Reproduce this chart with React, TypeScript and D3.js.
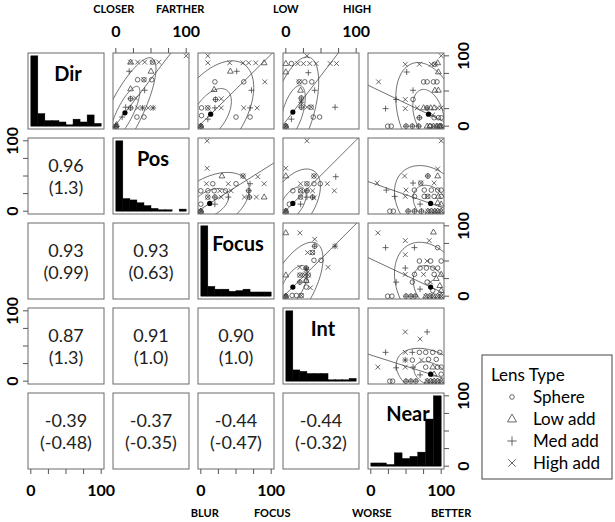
import React from 'react';
import * as d3 from 'd3';

// ---------- data ----------
const VARIABLES = ['Dir', 'Pos', 'Focus', 'Int', 'Near'];
const LENS_TYPES = ['Sphere', 'Low add', 'Med add', 'High add'];
const LENS_CODES = ['S', 'L', 'M', 'H'];

// histogram bar heights (equal bins over 0..100)
const HIST_DIR = [50, 9, 4, 4, 3, 1, 5, 3, 8, 2];
const HIST_POS = [50, 9, 8, 6, 4, 2, 1, 1, 0, 1.5];
const HIST_FOCUS = [50, 7, 5, 5, 3.5, 4, 5, 3, 3, 3];
const HIST_INT = [50, 8, 7, 5.5, 5.5, 5.5, 1, 1, 1, 2];
const HIST_NEAR = [2.3, 2.3, 1.2, 9.5, 5.5, 7, 10, 33.5, 50];
const HISTS = [HIST_DIR, HIST_POS, HIST_FOCUS, HIST_INT, HIST_NEAR];

// lower panels: [row, col, r, slope]
const CORR_ROWS = [1, 2, 2, 3, 3, 3, 4, 4, 4, 4];
const CORR_COLS = [0, 0, 1, 0, 1, 2, 0, 1, 2, 3];
const CORR_R = [0.96, 0.93, 0.93, 0.87, 0.91, 0.9, -0.39, -0.37, -0.44, -0.44];
const CORR_SLOPE = [1.3, 0.99, 0.63, 1.3, 1.0, 1.0, -0.48, -0.35, -0.47, -0.32];

type Pt = [number, number, string];

// upper panels: x = column variable, y = row variable
const PTS_DIR_POS: Pt[] = [
  [21, 91, 'L'], [21, 91, 'H'], [31, 91, 'H'], [41, 91, 'H'], [52, 91, 'S'], [52, 91, 'H'], [61, 91, 'H'],
  [50, 78, 'L'], [19, 78, 'M'],
  [31, 66, 'S'], [40, 66, 'S'], [40, 66, 'H'], [51, 66, 'S'],
  [41, 51, 'M'], [21, 53, 'L'],
  [21, 39, 'S'], [21, 39, 'M'], [28, 40, 'H'],
  [14, 27, 'M'], [21, 26, 'S'], [21, 26, 'M'], [31, 26, 'H'], [38, 26, 'M'], [38, 26, 'H'], [46, 26, 'H'], [53, 26, 'M'], [53, 26, 'H'],
  [30, 13, 'S'], [40, 13, 'S'], [9, 13, 'M'],
  [0, 0, 'L'], [0, 0, 'S'], [0, 0, 'M'], [0, 0, 'H'], [1, 2, 'L'],
  [100, 100, 'H'],
];
const PTS_DIR_FOCUS: Pt[] = [
  [10, 100, 'H'], [10, 90, 'H'], [41, 90, 'H'], [60, 90, 'H'], [68, 90, 'H'], [78, 90, 'H'], [90, 90, 'L'],
  [42, 78, 'L'], [51, 78, 'M'],
  [20, 63, 'S'], [61, 63, 'S'], [91, 63, 'H'],
  [72, 51, 'M'], [19, 52, 'L'],
  [21, 38, 'S'], [21, 38, 'M'], [29, 39, 'H'],
  [1, 26, 'S'], [10, 26, 'S'], [10, 26, 'H'], [20, 26, 'M'], [29, 26, 'H'],
  [61, 26, 'H'], [70, 26, 'M'], [80, 26, 'H'],
  [1, 15, 'S'], [10, 10, 'M'], [50, 13, 'S'], [70, 13, 'S'],
  [0, 0, 'L'], [0, 0, 'S'], [0, 0, 'M'], [0, 0, 'H'],
];
const PTS_DIR_INT: Pt[] = [
  [30, 100, 'H'],
  [0, 89, 'L'], [8, 89, 'S'], [17, 89, 'H'], [25, 89, 'H'], [34, 89, 'H'], [43, 89, 'H'], [63, 89, 'H'], [72, 89, 'H'],
  [0, 77, 'L'], [32, 76, 'M'],
  [19, 63, 'S'], [19, 63, 'H'], [27, 63, 'S'], [37, 63, 'S'],
  [21, 51, 'L'], [41, 51, 'M'],
  [22, 40, 'S'], [22, 40, 'M'], [22, 34, 'M'], [22, 34, 'H'],
  [22, 27, 'S'], [22, 27, 'M'], [30, 27, 'H'], [36, 27, 'S'], [36, 27, 'H'], [70, 27, 'M'],
  [39, 13, 'S'], [48, 13, 'S'], [8, 10, 'M'],
  [0, 0, 'L'], [0, 0, 'S'], [0, 0, 'M'], [0, 0, 'H'],
];
const PTS_DIR_NEAR: Pt[] = [
  [100, 100, 'H'],
  [49, 88, 'H'], [69, 88, 'H'], [86, 88, 'H'], [91, 88, 'S'], [91, 88, 'H'], [95, 90, 'L'],
  [96, 77, 'L'], [51, 77, 'M'],
  [11, 63, 'H'], [75, 63, 'S'], [80, 63, 'S'], [89, 63, 'S'], [94, 63, 'S'],
  [60, 51, 'M'], [91, 51, 'L'], [96, 51, 'L'],
  [36, 38, 'M'], [49, 38, 'H'], [60, 38, 'S'],
  [21, 25, 'M'], [49, 25, 'H'],
  [66, 26, 'H'], [75, 26, 'L'], [80, 26, 'S'], [80, 26, 'M'], [85, 26, 'L'], [90, 26, 'L'], [95, 26, 'H'], [100, 26, 'H'],
  [69, 12, 'S'], [69, 12, 'M'], [90, 12, 'S'], [96, 12, 'S'], [100, 12, 'S'], [88, 16, 'H'],
  [24, 0, 'S'], [29, 0, 'S'], [50, 0, 'S'], [50, 0, 'M'], [59, 0, 'S'], [59, 0, 'M'], [68, 0, 'S'], [68, 0, 'M'],
  [80, 0, 'L'], [84, 0, 'L'], [84, 0, 'S'], [89, 0, 'L'], [89, 0, 'H'], [94, 0, 'L'], [94, 0, 'M'], [98, 0, 'L'], [98, 0, 'S'], [100, 0, 'L'], [100, 0, 'H'],
];
const PTS_POS_FOCUS: Pt[] = [
  [9, 100, 'H'], [9, 61, 'H'],
  [30, 50, 'L'], [60, 50, 'S'], [60, 50, 'H'], [81, 49, 'H'],
  [8, 39, 'H'], [17, 39, 'S'], [39, 39, 'H'], [50, 39, 'S'], [70, 39, 'M'], [90, 39, 'H'],
  [0, 29, 'S'], [10, 29, 'S'], [19, 29, 'S'], [27, 29, 'H'], [35, 29, 'S'], [43, 29, 'H'], [68, 29, 'S'], [68, 29, 'M'],
  [10, 20, 'S'], [10, 20, 'H'], [20, 20, 'S'], [20, 20, 'M'], [29, 20, 'H'], [39, 20, 'M'], [62, 20, 'H'], [69, 20, 'S'], [69, 20, 'M'], [79, 20, 'H'], [90, 20, 'L'],
  [20, 10, 'M'], [0, 10, 'S'],
  [0, 0, 'L'], [0, 0, 'S'], [0, 0, 'M'], [0, 0, 'H'],
];
const PTS_POS_INT: Pt[] = [
  [30, 100, 'H'], [0, 61, 'H'], [0, 50, 'L'],
  [40, 50, 'S'], [40, 50, 'H'], [71, 49, 'M'],
  [21, 39, 'H'], [30, 39, 'S'], [30, 39, 'H'], [40, 39, 'S'], [49, 39, 'S'], [59, 39, 'H'],
  [10, 29, 'S'], [21, 29, 'S'], [21, 29, 'H'], [30, 29, 'S'], [30, 29, 'M'], [38, 29, 'H'], [69, 29, 'H'],
  [21, 20, 'S'], [21, 20, 'H'], [30, 20, 'M'], [38, 20, 'S'], [38, 20, 'M'], [40, 19, 'H'],
  [21, 10, 'M'], [5, 10, 'S'],
  [0, 0, 'L'], [0, 0, 'S'], [0, 0, 'M'], [0, 0, 'H'],
];
const PTS_POS_NEAR: Pt[] = [
  [100, 100, 'H'], [95, 60, 'H'],
  [81, 50, 'S'], [81, 50, 'M'], [95, 50, 'L'], [48, 50, 'H'],
  [9, 40, 'H'], [60, 40, 'M'], [71, 40, 'S'], [71, 40, 'H'], [90, 40, 'H'],
  [22, 30, 'M'], [50, 30, 'H'], [62, 30, 'S'], [76, 30, 'S'], [86, 30, 'S'], [95, 30, 'S'], [100, 30, 'S'],
  [34, 21, 'M'], [49, 21, 'H'], [62, 21, 'S'], [76, 21, 'S'], [81, 21, 'S'], [81, 21, 'H'], [90, 21, 'S'], [96, 21, 'L'], [100, 21, 'S'],
  [70, 10, 'M'], [95, 12, 'L'], [100, 10, 'L'],
  [27, 0, 'S'], [32, 0, 'S'], [53, 0, 'S'], [53, 0, 'M'], [62, 0, 'S'], [62, 0, 'M'], [72, 0, 'S'], [72, 0, 'M'],
  [81, 0, 'L'], [81, 0, 'H'], [86, 0, 'L'], [86, 0, 'H'], [91, 0, 'L'], [91, 0, 'H'], [95, 0, 'L'], [95, 0, 'H'], [100, 0, 'L'], [100, 0, 'H'],
];
const PTS_FOCUS_INT: Pt[] = [
  [0, 90, 'L'], [20, 90, 'H'], [41, 81, 'H'], [41, 71, 'S'], [41, 71, 'M'], [70, 71, 'M'], [70, 71, 'H'],
  [31, 62, 'H'], [38, 62, 'S'], [38, 62, 'H'],
  [40, 51, 'S'], [50, 51, 'S'],
  [60, 41, 'H'], [20, 41, 'H'], [29, 40, 'S'], [29, 40, 'M'], [29, 38, 'M'], [29, 38, 'H'],
  [0, 30, 'L'], [20, 30, 'S'], [20, 30, 'H'], [27, 30, 'S'], [27, 30, 'H'], [32, 30, 'S'], [32, 30, 'H'],
  [20, 20, 'S'], [20, 20, 'M'], [29, 22, 'L'], [29, 22, 'S'],
  [29, 13, 'S'], [35, 12, 'H'],
  [0, 0, 'L'], [0, 0, 'S'], [0, 0, 'M'], [0, 0, 'H'], [9, 1, 'S'], [15, 1, 'S'], [22, 1, 'S'], [22, 1, 'H'],
];
const PTS_FOCUS_NEAR: Pt[] = [
  [10, 90, 'H'], [89, 91, 'L'],
  [21, 69, 'M'], [49, 79, 'H'], [62, 69, 'M'], [83, 79, 'H'], [95, 69, 'S'],
  [49, 59, 'H'], [69, 50, 'S'], [85, 50, 'S'], [100, 50, 'S'], [80, 50, 'H'],
  [49, 40, 'M'], [70, 40, 'S'], [79, 40, 'S'], [95, 40, 'S'], [88, 40, 'S'],
  [49, 31, 'H'], [62, 31, 'S'], [75, 31, 'H'], [90, 31, 'S'], [100, 31, 'L'],
  [36, 20, 'M'], [59, 20, 'S'], [80, 20, 'S'], [93, 25, 'L'], [98, 15, 'L'], [85, 20, 'H'],
  [70, 10, 'M'], [88, 8, 'S'], [100, 8, 'L'],
  [24, 0, 'S'], [30, 0, 'S'], [50, 0, 'S'], [50, 0, 'M'], [57, 0, 'S'], [57, 0, 'M'], [63, 0, 'S'], [63, 0, 'M'],
  [78, 0, 'L'], [78, 0, 'H'], [84, 0, 'L'], [84, 0, 'H'], [89, 0, 'L'], [89, 0, 'H'], [95, 0, 'L'], [95, 0, 'H'], [100, 0, 'L'], [100, 0, 'H'],
];
const PTS_INT_NEAR: Pt[] = [
  [49, 70, 'H'], [80, 70, 'M'], [70, 60, 'H'],
  [21, 41, 'M'], [49, 41, 'H'], [59, 41, 'M'], [69, 41, 'S'], [78, 41, 'S'], [88, 41, 'S'], [98, 41, 'S'],
  [10, 20, 'H'], [36, 19, 'M'],
  [49, 30, 'M'], [49, 30, 'H'], [59, 30, 'S'], [72, 30, 'H'], [82, 31, 'S'], [93, 31, 'S'],
  [49, 20, 'H'], [60, 20, 'M'], [78, 20, 'S'], [88, 20, 'L'], [95, 20, 'S'], [100, 20, 'S'],
  [70, 9, 'M'], [90, 10, 'L'], [100, 10, 'S'],
  [27, 0, 'S'], [31, 0, 'S'], [50, 0, 'S'], [50, 0, 'M'], [57, 0, 'S'], [57, 0, 'M'], [64, 0, 'S'], [64, 0, 'M'],
  [80, 0, 'L'], [80, 0, 'H'], [85, 0, 'L'], [85, 0, 'H'], [90, 0, 'L'], [90, 0, 'H'], [95, 0, 'L'], [95, 0, 'H'], [100, 0, 'L'], [100, 0, 'H'],
];

// upper panels, in the same order as the CORR arrays (row/col swapped)
const SCATTER_POINTS = [PTS_DIR_POS, PTS_DIR_FOCUS, PTS_POS_FOCUS, PTS_DIR_INT, PTS_POS_INT, PTS_FOCUS_INT, PTS_DIR_NEAR, PTS_POS_NEAR, PTS_FOCUS_NEAR, PTS_INT_NEAR];
// data-ellipse centres and spreads (robust), per upper panel
const ELL_CX = [13, 14, 12.6, 10, 10, 10, 82, 85, 85, 85];
const ELL_CY = [19, 17, 11, 20, 11, 13, 17, 11, 13, 10];
const ELL_SX = [18, 25, 23, 15, 16, 17.5, 19, 21, 21, 20];
const ELL_SY = [32, 31, 18, 32, 20, 26, 30, 22, 26, 15];
const ELL_R = [0.8, 0.5, 0.45, 0.55, 0.5, 0.63, -0.32, -0.3, -0.3, -0.35];
const ELL_LEVELS = [1.177, 2.448];

const TOP_LABELS = ['CLOSER', 'FARTHER', 'LOW', 'HIGH'];
const BOTTOM_LABELS = ['BLUR', 'FOCUS', 'WORSE', 'BETTER'];
const AXIS_TICKS = [0, 25, 50, 75, 100];
const AXIS_LABELS = [0, 100];

// ---------- layout ----------
const SIZE = 76;
const PITCH = 85;
const LEFT0 = 28;
const TOP0 = 53;
const FONT = "Lato, 'Open Sans', 'DejaVu Sans', sans-serif";
const PT_COLOR = '#3a3a3a';
const BOX_COLOR = '#6a6a6a';

function Symbol({ type, x, y, k = 1, color = PT_COLOR, sw = 0.75 }: any) {
  if (type === 'S') return <circle cx={x} cy={y} r={2.3 * k} fill="none" stroke={color} strokeWidth={sw} />;
  if (type === 'L') {
    const s = 2.9 * k;
    return <path d={`M${x},${y - s * 1.1}L${x + s},${y + s * 0.65}L${x - s},${y + s * 0.65}Z`} fill="none" stroke={color} strokeWidth={sw} />;
  }
  if (type === 'M') {
    const s = 3 * k;
    return <path d={`M${x - s},${y}H${x + s}M${x},${y - s}V${y + s}`} stroke={color} strokeWidth={sw} />;
  }
  const s = 2.4 * k;
  return <path d={`M${x - s},${y - s}L${x + s},${y + s}M${x - s},${y + s}L${x + s},${y - s}`} stroke={color} strokeWidth={sw} />;
}

export default function App() {
  const colX = (c: number) => LEFT0 + c * PITCH;
  const rowY = (r: number) => TOP0 + r * PITCH;
  const xScale = (c: number) => d3.scaleLinear().domain([-4, 104]).range([colX(c), colX(c) + SIZE]);
  const yScale = (r: number) => d3.scaleLinear().domain([-4, 104]).range([rowY(r) + SIZE, rowY(r)]);

  const elements: any[] = [];
  const defs: any[] = [];

  // diagonal histograms
  VARIABLES.forEach((name, i) => {
    const h = HISTS[i];
    const xs = xScale(i);
    const maxH = d3.max(h) as number;
    const ys = d3.scaleLinear().domain([-0.04 * maxH, 1.04 * maxH]).range([rowY(i) + SIZE, rowY(i)]);
    const w = 100 / h.length;
    h.forEach((v, j) => {
      if (v <= 0) return;
      elements.push(
        <rect key={`h${i}-${j}`} x={xs(j * w)} y={ys(v)} width={xs((j + 1) * w) - xs(j * w)} height={ys(0) - ys(v)} fill="#000" stroke="#000" strokeWidth={0.4} />
      );
    });
    elements.push(
      <text key={`dl${i}`} x={colX(i) + SIZE / 2 + 2} y={rowY(i) + 28} textAnchor="middle" fontFamily={FONT} fontWeight="bold" fontSize={20} fill="#000">{name}</text>
    );
  });

  // lower panel texts and upper scatter panels
  CORR_R.forEach((r, k) => {
    const row = CORR_ROWS[k];
    const col = CORR_COLS[k];
    const cx = colX(col) + SIZE / 2;
    const cy = rowY(row) + SIZE / 2;
    elements.push(
      <text key={`cr${k}`} x={cx} y={cy - 4} textAnchor="middle" fontFamily={FONT} fontSize={18} fill="#222">{r.toFixed(2)}</text>,
      <text key={`cs${k}`} x={cx} y={cy + 18} textAnchor="middle" fontFamily={FONT} fontSize={18} fill="#222">{`(${CORR_SLOPE[k].toPrecision(2)})`}</text>
    );

    // upper panel: row = col var, col = row var
    const ur = col;
    const uc = row;
    const xs = xScale(uc);
    const ys = yScale(ur);
    const clipId = `clip${k}`;
    defs.push(
      <clipPath key={clipId} id={clipId}>
        <rect x={colX(uc)} y={rowY(ur)} width={SIZE} height={SIZE} />
      </clipPath>
    );
    const ecx = ELL_CX[k], ecy = ELL_CY[k], sx = ELL_SX[k], sy = ELL_SY[k], rr = ELL_R[k];
    const ts = d3.range(0, 101).map((t) => (t / 100) * 2 * Math.PI);
    const lineGen = d3.line<[number, number]>().x((d) => xs(d[0])).y((d) => ys(d[1]));
    ELL_LEVELS.forEach((rad, li) => {
      const pts: [number, number][] = ts.map((t) => [
        ecx + rad * sx * Math.cos(t),
        ecy + rad * (rr * sy * Math.cos(t) + sy * Math.sqrt(1 - rr * rr) * Math.sin(t)),
      ]);
      elements.push(
        <path key={`e${k}-${li}`} d={lineGen(pts) as string} fill="none" stroke="#333" strokeWidth={0.7} clipPath={`url(#${clipId})`} />
      );
    });
    const slope = CORR_SLOPE[k];
    const lx0 = -10, lx1 = 110;
    elements.push(
      <line key={`rl${k}`} x1={xs(lx0)} y1={ys(ecy + slope * (lx0 - ecx))} x2={xs(lx1)} y2={ys(ecy + slope * (lx1 - ecx))} stroke="#333" strokeWidth={0.7} clipPath={`url(#${clipId})`} />
    );
    SCATTER_POINTS[k].forEach((p, j) => {
      elements.push(<Symbol key={`p${k}-${j}`} type={p[2]} x={xs(p[0])} y={ys(p[1])} />);
    });
    elements.push(<circle key={`m${k}`} cx={xs(ecx)} cy={ys(ecy)} r={2.6} fill="#000" />);
  });

  // panel boxes
  for (let r = 0; r < 5; r++) {
    for (let c = 0; c < 5; c++) {
      elements.push(
        <rect key={`b${r}-${c}`} x={colX(c)} y={rowY(r)} width={SIZE} height={SIZE} fill="none" stroke={BOX_COLOR} strokeWidth={1} />
      );
    }
  }

  // axes
  const tickColor = '#555';
  // top: columns 1 and 3
  [1, 3].forEach((c) => {
    const xs = xScale(c);
    AXIS_TICKS.forEach((t) => elements.push(<line key={`tt${c}-${t}`} x1={xs(t)} x2={xs(t)} y1={TOP0} y2={TOP0 - 5} stroke={tickColor} strokeWidth={1} />));
    AXIS_LABELS.forEach((t) => elements.push(
      <text key={`tl${c}-${t}`} x={xs(t)} y={37} textAnchor="middle" fontFamily={FONT} fontWeight="bold" fontSize={16} fill="#000">{t}</text>
    ));
  });
  // bottom: columns 0, 2, 4
  const bottomY = rowY(4) + SIZE;
  [0, 2, 4].forEach((c) => {
    const xs = xScale(c);
    AXIS_TICKS.forEach((t) => elements.push(<line key={`bt${c}-${t}`} x1={xs(t)} x2={xs(t)} y1={bottomY} y2={bottomY + 5} stroke={tickColor} strokeWidth={1} />));
    AXIS_LABELS.forEach((t) => elements.push(
      <text key={`bl${c}-${t}`} x={xs(t)} y={496} textAnchor="middle" fontFamily={FONT} fontWeight="bold" fontSize={16} fill="#000">{t}</text>
    ));
  });
  // left: rows 1, 3
  [1, 3].forEach((r) => {
    const ys = yScale(r);
    AXIS_TICKS.forEach((t) => elements.push(<line key={`lt${r}-${t}`} x1={LEFT0} x2={LEFT0 - 5} y1={ys(t)} y2={ys(t)} stroke={tickColor} strokeWidth={1} />));
    AXIS_LABELS.forEach((t) => elements.push(
      <text key={`ll${r}-${t}`} transform={`translate(18,${ys(t)}) rotate(-90)`} textAnchor="middle" fontFamily={FONT} fontWeight="bold" fontSize={16} fill="#000">{t}</text>
    ));
  });
  // right: rows 0, 2, 4
  const rightX = colX(4) + SIZE;
  [0, 2, 4].forEach((r) => {
    const ys = yScale(r);
    AXIS_TICKS.forEach((t) => elements.push(<line key={`rt${r}-${t}`} x1={rightX} x2={rightX + 5} y1={ys(t)} y2={ys(t)} stroke={tickColor} strokeWidth={1} />));
    AXIS_LABELS.forEach((t) => elements.push(
      <text key={`rl${r}-${t}`} transform={`translate(469,${ys(t)}) rotate(-90)`} textAnchor="middle" fontFamily={FONT} fontWeight="bold" fontSize={16} fill="#000">{t}</text>
    ));
  });

  // descriptive axis words
  const topXs = [xScale(1)(0) - 2, xScale(1)(100) - 6, xScale(3)(0), xScale(3)(100) + 1];
  TOP_LABELS.forEach((l, i) => elements.push(
    <text key={`tw${i}`} x={topXs[i]} y={13} textAnchor="middle" fontFamily={FONT} fontWeight="bold" fontSize={11} fill="#000">{l}</text>
  ));
  const botXs = [xScale(2)(0) + 4, xScale(2)(100) + 1, xScale(4)(0) + 1, xScale(4)(100) + 10];
  BOTTOM_LABELS.forEach((l, i) => elements.push(
    <text key={`bw${i}`} x={botXs[i]} y={517} textAnchor="middle" fontFamily={FONT} fontWeight="bold" fontSize={11} fill="#000">{l}</text>
  ));

  // legend
  const legX = 482, legY = 355, legW = 130, legH = 124;
  elements.push(<rect key="legbox" x={legX} y={legY} width={legW} height={legH} fill="#fff" stroke="#444" strokeWidth={1} />);
  elements.push(<text key="legt" x={legX + 9} y={legY + 26} fontFamily={FONT} fontSize={17} fill="#000">Lens Type</text>);
  LENS_TYPES.forEach((name, i) => {
    const yy = legY + 42 + i * 22;
    elements.push(<Symbol key={`ls${i}`} type={LENS_CODES[i]} x={legX + 30} y={yy} k={LENS_CODES[i] === 'S' ? 1 : 1.55} color="#555" sw={0.9} />);
    elements.push(<text key={`lt${i}`} x={legX + 51} y={yy + 6} fontFamily={FONT} fontSize={17} fill="#000">{name}</text>);
  });

  return (
    <svg width={615} height={522} style={{ position: 'absolute', left: 0, top: 0, background: '#fff' }} xmlns="http://www.w3.org/2000/svg">
      <defs>{defs}</defs>
      <rect x={0} y={0} width={615} height={522} fill="#fff" />
      {elements}
    </svg>
  );
}
